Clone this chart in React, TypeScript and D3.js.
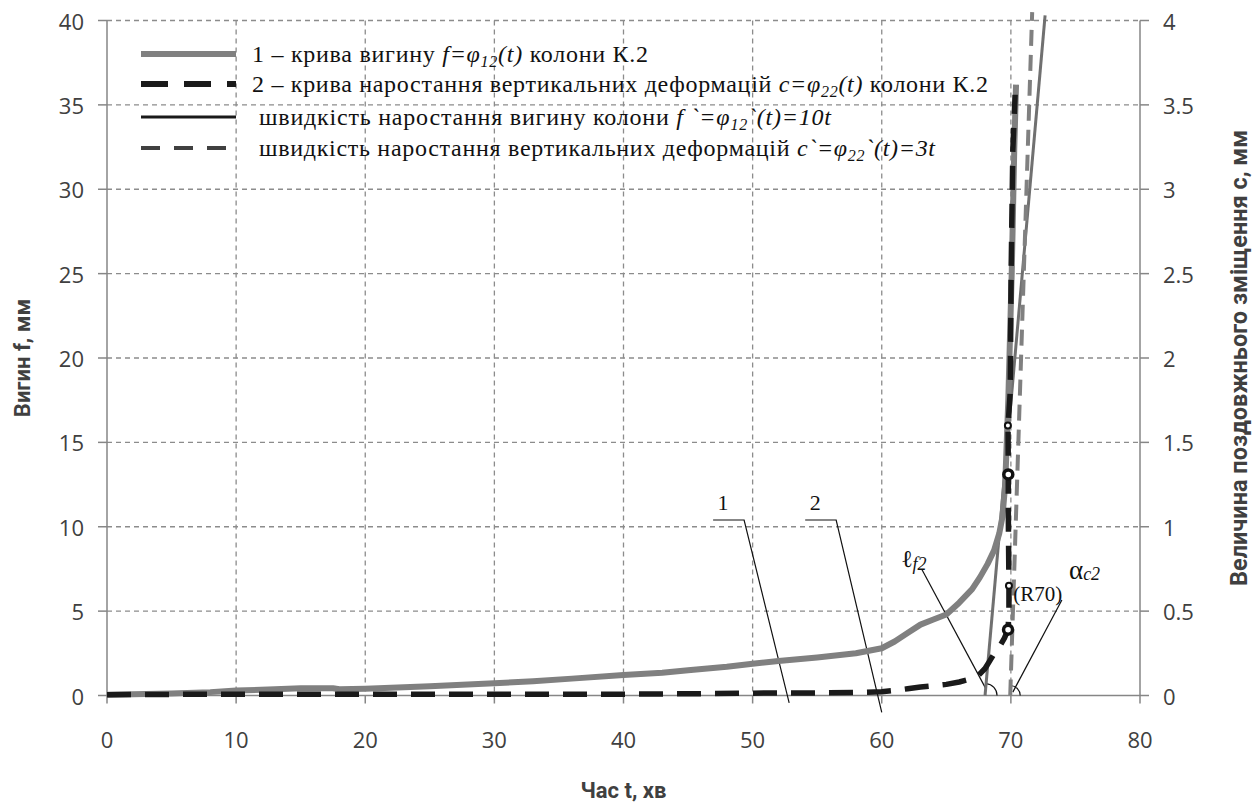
import React from "react";
import * as d3 from "d3";

const W = 1258;
const H = 804;
const plot = { left: 107, right: 1140, top: 20.5, bottom: 695.5 };

// axes
const tTicks = [0, 10, 20, 30, 40, 50, 60, 70, 80];
const fTicks = [0, 5, 10, 15, 20, 25, 30, 35, 40];
const cTicks = [0, 0.5, 1, 1.5, 2, 2.5, 3, 3.5, 4];
const cTickLabels = ["0", "0.5", "1", "1.5", "2", "2.5", "3", "3.5", "4"];

// 1 – bending curve f(t), left axis
const bendT = [0, 2, 5, 8, 10, 13, 15, 17.5, 18, 20, 25, 30, 33, 36, 40, 43, 45, 48, 50, 52, 55, 58, 60, 61, 62, 63, 64, 65, 66, 67, 67.6, 68.2, 68.7, 69.1, 69.35, 69.56, 69.8, 70.07, 70.26, 70.4];
const bendF = [0.05, 0.08, 0.12, 0.2, 0.29, 0.37, 0.43, 0.43, 0.37, 0.4, 0.55, 0.72, 0.85, 1.0, 1.22, 1.35, 1.5, 1.7, 1.88, 2.05, 2.25, 2.5, 2.8, 3.2, 3.7, 4.2, 4.5, 4.8, 5.5, 6.3, 7.0, 7.8, 8.6, 9.6, 10.6, 12.5, 17.5, 25.2, 32.3, 36.2];

// 2 – vertical deformation curve c(t), right axis
const deformT = [0, 10, 20, 30, 40, 45, 50, 55, 58, 60, 61, 62, 63, 64, 65, 66, 67, 67.5, 68, 68.4, 68.8, 69.2, 69.5, 69.78, 69.85, 69.85, 69.82, 69.8, 69.8, 69.78, 69.95, 70.02, 70.15, 70.33];
const deformC = [0.005, 0.008, 0.008, 0.008, 0.008, 0.01, 0.014, 0.015, 0.018, 0.022, 0.03, 0.04, 0.05, 0.058, 0.066, 0.08, 0.1, 0.12, 0.16, 0.21, 0.26, 0.3, 0.34, 0.39, 0.5, 0.65, 0.9, 1.1, 1.31, 1.6, 1.8, 2.51, 3.23, 3.56];

// rate lines
const rateBendT = [68.0, 72.65];
const rateBendF = [0, 40.3];
const rateDeformT = [69.95, 71.65];
const rateDeformC = [0, 4.05];

// markers on curve 2
const ringT = [69.78, 69.8];
const ringC = [0.39, 1.31];
const dotT = [69.85, 69.77];
const dotC = [0.65, 1.6];

// callouts
const calloutNames = ["1", "2"];
const calloutT = [47.7, 54.85];
const calloutF = [11.0, 11.0];
const leader1T = [46.94, 49.34, 52.83];
const leader1F = [10.4, 10.4, -0.44];
const leader2T = [54.07, 56.47, 60.0];
const leader2F = [10.4, 10.4, -1.0];
const leaderLfT = [63.1, 68.1];
const leaderLfF = [7.48, 0.35];
const leaderAlT = [73.95, 70.15];
const leaderAlC = [0.566, 0.02];

const x = d3.scaleLinear().domain([0, 80]).range([plot.left, plot.right]);
const yF = d3.scaleLinear().domain([0, 40]).range([plot.bottom, plot.top]);
const yC = d3.scaleLinear().domain([0, 4]).range([plot.bottom, plot.top]);

const lineF = d3.line<[number, number]>().x((d) => x(d[0])).y((d) => yF(d[1]));
const lineC = d3.line<[number, number]>().x((d) => x(d[0])).y((d) => yC(d[1]));
const zip = (a: number[], b: number[]) => a.map((v, i) => [v, b[i]] as [number, number]);

function angleArc(cx: number, cy: number, tx: number, ty: number, r: number) {
  const a = Math.atan2(cy - ty, tx - cx);
  return `M${cx + r},${cy}A${r},${r} 0 0 0 ${cx + r * Math.cos(a)},${cy - r * Math.sin(a)}`;
}

const serif = "'Liberation Serif', 'Times New Roman', serif";
const sans = "'Open Sans', 'DejaVu Sans', sans-serif";
const titleFont = "'Liberation Sans Narrow', 'Roboto', sans-serif";
const gridColor = "#8c8c8c";
const axisColor = "#868686";

const legendY = [54, 84, 117, 148];
const legendTextWidth = [396, 736, 572, 676];

export default function App() {
  const b1 = [x(rateBendT[0]), yF(rateBendF[0])];
  const b1Top = [x(rateBendT[1]), yF(rateBendF[1])];
  const b2 = [x(rateDeformT[0]), yC(rateDeformC[0])];
  const b2Top = [x(rateDeformT[1]), yC(rateDeformC[1])];

  return (
    <svg width={W} height={H} style={{ position: "absolute", left: 0, top: 0, background: "#fff" }}>
      {/* grid */}
      <g stroke={gridColor} strokeWidth={1.3} strokeDasharray="5 4">
        {fTicks.slice(1).map((v) => (
          <line key={"h" + v} x1={plot.left} x2={plot.right} y1={yF(v)} y2={yF(v)} />
        ))}
        {tTicks.slice(1, -1).map((v) => (
          <line key={"v" + v} x1={x(v)} x2={x(v)} y1={plot.top} y2={plot.bottom} />
        ))}
      </g>

      {/* axes */}
      <g stroke={axisColor} strokeWidth={1.5}>
        <line x1={plot.left} x2={plot.left} y1={plot.top} y2={plot.bottom} />
        <line x1={plot.right} x2={plot.right} y1={plot.top} y2={plot.bottom} />
        <line x1={plot.left} x2={plot.right} y1={plot.bottom} y2={plot.bottom} />
        {fTicks.map((v) => (
          <line key={"lt" + v} x1={plot.left - 9} x2={plot.left} y1={yF(v)} y2={yF(v)} />
        ))}
        {cTicks.map((v) => (
          <line key={"rt" + v} x1={plot.right} x2={plot.right + 9} y1={yC(v)} y2={yC(v)} />
        ))}
        {tTicks.map((v) => (
          <line key={"bt" + v} x1={x(v)} x2={x(v)} y1={plot.bottom} y2={plot.bottom + 8} />
        ))}
      </g>

      {/* tick labels */}
      <g fontFamily={sans} fontSize={22} fill="#404040">
        {fTicks.map((v) => (
          <text key={"ll" + v} x={84} y={yF(v)} textAnchor="end" dominantBaseline="central">{v}</text>
        ))}
        {cTicks.map((v, i) => (
          <text key={"rl" + v} x={1163} y={yC(v)} dominantBaseline="central">{cTickLabels[i]}</text>
        ))}
        {tTicks.map((v) => (
          <text key={"bl" + v} x={x(v)} y={739} textAnchor="middle" dominantBaseline="central">{v}</text>
        ))}
      </g>

      {/* axis titles */}
      <g fontFamily={titleFont} fontWeight="bold" fontSize={22} fill="#404040" textAnchor="middle">
        <text x={(plot.left + plot.right) / 2} y={790} dominantBaseline="central">Час t, хв</text>
        <text transform={`translate(22,${(plot.top + plot.bottom) / 2}) rotate(-90)`} dominantBaseline="central">Вигин f, мм</text>
        <text transform={`translate(1239,${(plot.top + plot.bottom) / 2}) rotate(-90)`} dominantBaseline="central" fontSize={23.5}>Величина поздовжнього зміщення с, мм</text>
      </g>

      {/* callout leaders */}
      <g fill="none" stroke="#111" strokeWidth={1.2}>
        <path d={lineF(zip(leader1T, leader1F)) || ""} />
        <path d={lineF(zip(leader2T, leader2F)) || ""} />
        <path d={lineF(zip(leaderLfT, leaderLfF)) || ""} />
        <path d={lineC(zip(leaderAlT, leaderAlC)) || ""} />
        <path d={angleArc(b1[0], b1[1], b1Top[0], b1Top[1], 12)} />
        <path d={angleArc(b2[0], b2[1], b2Top[0], b2Top[1], 10)} />
      </g>

      {/* series */}
      <path d={lineF(zip(rateBendT, rateBendF)) || ""} fill="none" stroke="#707070" strokeWidth={3} />
      <path d={lineC(zip(rateDeformT, rateDeformC)) || ""} fill="none" stroke="#808080" strokeWidth={4} strokeDasharray="16 9" />
      <path d={lineF(zip(bendT, bendF)) || ""} fill="none" stroke="#808080" strokeWidth={6} strokeLinejoin="round" />
      <path d={lineC(zip(deformT, deformC)) || ""} fill="none" stroke="#1a1a1a" strokeWidth={5.5} strokeDasharray="24 14" strokeLinejoin="round" />
      {ringT.map((t, i) => (
        <circle key={"r" + i} cx={x(t)} cy={yC(ringC[i])} r={4.5} fill="#fff" stroke="#111" strokeWidth={3.5} />
      ))}
      {dotT.map((t, i) => (
        <circle key={"d" + i} cx={x(t)} cy={yC(dotC[i])} r={3} fill="#fff" stroke="#111" strokeWidth={2} />
      ))}

      {/* callout labels */}
      <g fontFamily={serif} fontSize={22} fill="#111">
        {calloutNames.map((n, i) => (
          <text key={n} x={x(calloutT[i])} y={yF(calloutF[i])} textAnchor="middle">{n}</text>
        ))}
        <text x={x(61.5)} y={yF(7.6)} fontSize={24}>
          ℓ<tspan fontStyle="italic" fontSize={18} dy={3}>f2</tspan>
        </text>
        <text x={x(70.18)} y={yC(0.56)} fontSize={21}>(R70)</text>
        <text x={x(74.5)} y={yC(0.69)} fontSize={27}>
          α<tspan fontStyle="italic" fontSize={18} dy={1}>c2</tspan>
        </text>
      </g>

      {/* legend */}
      <g>
        <line x1={141} x2={236} y1={legendY[0]} y2={legendY[0]} stroke="#808080" strokeWidth={6} />
        <line x1={141} x2={236} y1={legendY[1]} y2={legendY[1]} stroke="#1a1a1a" strokeWidth={6} strokeDasharray="27 16" />
        <line x1={141} x2={236} y1={legendY[2]} y2={legendY[2]} stroke="#1a1a1a" strokeWidth={3} />
        <line x1={141} x2={236} y1={legendY[3]} y2={legendY[3]} stroke="#404040" strokeWidth={4} strokeDasharray="19 14" />
      </g>
      <g fontFamily={serif} fontSize={24} fill="#111">
        <text x={252} y={legendY[0] + 8} textLength={legendTextWidth[0]}>
          1 – крива вигину <tspan fontStyle="italic">f=φ</tspan>
          <tspan fontStyle="italic" fontSize={16} dy={5}>12</tspan>
          <tspan fontStyle="italic" dy={-5}>(t)</tspan> колони К.2
        </text>
        <text x={252} y={legendY[1] + 8} textLength={legendTextWidth[1]}>
          2 – крива наростання вертикальних деформацій <tspan fontStyle="italic">c=φ</tspan>
          <tspan fontStyle="italic" fontSize={16} dy={5}>22</tspan>
          <tspan fontStyle="italic" dy={-5}>(t)</tspan> колони К.2
        </text>
        <text x={259} y={legendY[2] + 8} textLength={legendTextWidth[2]}>
          швидкість наростання вигину колони  <tspan fontStyle="italic">f `=φ</tspan>
          <tspan fontStyle="italic" fontSize={16} dy={5}>12</tspan>
          <tspan fontStyle="italic" dy={-5}>`(t)=10t</tspan>
        </text>
        <text x={259} y={legendY[3] + 8} textLength={legendTextWidth[3]}>
          швидкість наростання вертикальних деформацій <tspan fontStyle="italic">c`=φ</tspan>
          <tspan fontStyle="italic" fontSize={16} dy={5}>22</tspan>
          <tspan fontStyle="italic" dy={-5}>`(t)=3t</tspan>
        </text>
      </g>
    </svg>
  );
}
